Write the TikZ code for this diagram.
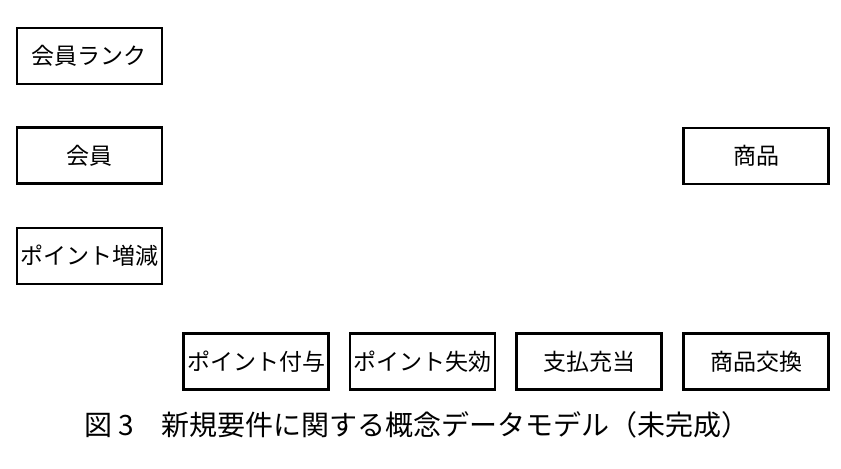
\documentclass[tikz,border=0pt]{standalone}
\usepackage{fontspec}
\newfontfamily\cjk{Noto Sans CJK JP}
\tikzset{entity/.style={draw, line width=1.1pt, minimum width=72.5pt, minimum height=28pt, inner sep=0pt, font=\cjk\fontsize{11.5}{12}\selectfont}}
\begin{document}
\begin{tikzpicture}[x=0.5pt, y=-0.5pt]
   \useasboundingbox (0,0) rectangle (841,468);
   \node[entity] (rank) at (89.5,56) {会員ランク};
   \node[entity] (member) at (89.5,155.5) {会員};
   \node[entity] (pointchg) at (89.5,256) {ポイント増減};
   \node[entity] (item) at (756,156) {商品};
   \node[entity] (grant) at (256,361.5) {ポイント付与};
   \node[entity] (expire) at (422.5,361.5) {ポイント失効};
   \node[entity] (payment) at (589,361.5) {支払充当};
   \node[entity] (exchange) at (756,361.5) {商品交換};
   \node[font=\cjk\fontsize{14}{15}\selectfont] (caption) at (417,425) {図 3\quad 新規要件に関する概念データモデル（未完成）};
\end{tikzpicture}
\end{document}
